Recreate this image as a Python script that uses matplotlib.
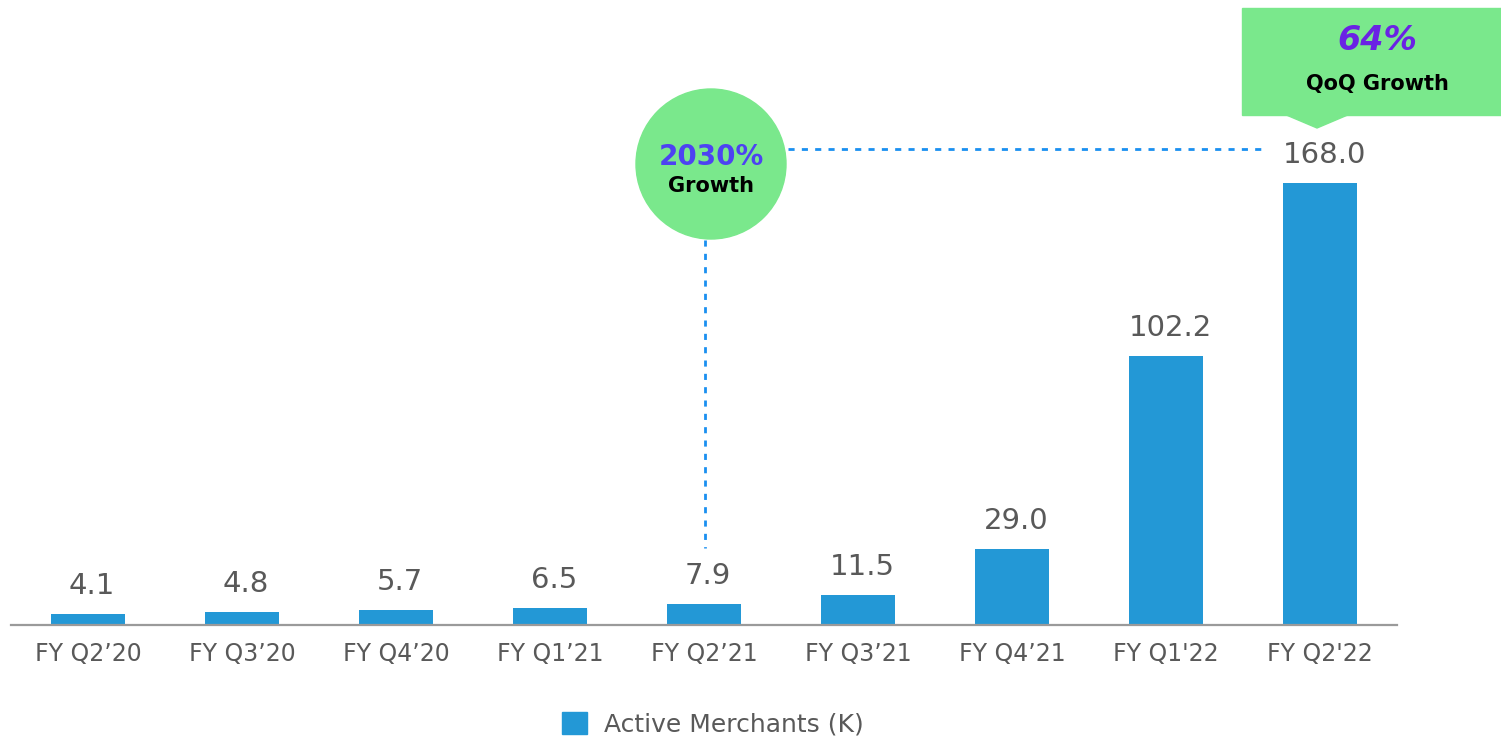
import matplotlib
matplotlib.use("Agg")
import matplotlib.pyplot as plt
from matplotlib.patches import Circle, Polygon, Rectangle, Patch

plt.rcParams["font.family"] = ["DejaVu Sans"]

# data
quarters = ["FY Q2\u201920", "FY Q3\u201920", "FY Q4\u201920", "FY Q1\u201921", "FY Q2\u201921",
            "FY Q3\u201921", "FY Q4\u201921", "FY Q1'22", "FY Q2'22"]
merchants = [4.1, 4.8, 5.7, 6.5, 7.9, 11.5, 29.0, 102.2, 168.0]
series_name = "Active Merchants (K)"
growth_total = "2030%"
growth_qoq = "64%"

BAR = "#2398d6"
GREEN = "#7ae88c"
GREY = "#595959"
DOT = "#1a8ff0"

W, H = 1501, 738
fig = plt.figure(figsize=(W / 100, H / 100), dpi=100)

ax = fig.add_axes([11 / W, 113 / H, 1386 / W, 625 / H])
x = range(len(quarters))
ax.bar(x, merchants, width=0.48, color=BAR, zorder=2)
ax.set_xlim(-0.5, len(quarters) - 0.5)
ax.set_ylim(0, 168.0 * 625 / 442)
for s in ["top", "right", "left"]:
    ax.spines[s].set_visible(False)
ax.spines["bottom"].set_color("#9a9a9a")
ax.spines["bottom"].set_linewidth(1.6)
ax.set_yticks([])
ax.set_xticks(list(x))
ax.set_xticklabels(quarters, fontsize=17, color=GREY)
ax.tick_params(axis="x", length=0, pad=12)

for xi, v in zip(x, merchants):
    ax.annotate(f"{v:.1f}", (xi, v), xytext=(3, 14.4), textcoords="offset points",
                ha="center", va="baseline", fontsize=21, color=GREY)

fig.legend([Patch(color=BAR)], [series_name], loc="center",
           bbox_to_anchor=(713 / W, 1 - 724 / H), frameon=False, fontsize=18,
           labelcolor=GREY, handlelength=1.0, handleheight=1.0, handletextpad=0.7,
           borderpad=0)

# callout overlay in pixel coordinates
ov = fig.add_axes([0, 0, 1, 1], facecolor="none")
ov.set_xlim(0, W)
ov.set_ylim(H, 0)
ov.axis("off")

ov.plot([705, 705], [240, 548], color=DOT, lw=2, linestyle=(0, (2.2, 2.6)))
ov.plot([788, 1265], [149, 149], color=DOT, lw=2, linestyle=(0, (2.2, 2.6)))

ov.add_patch(Circle((711, 164), 75, color=GREEN, zorder=3))
ov.text(711, 157, growth_total, ha="center", va="center", fontsize=20,
        fontweight="bold", color="#4d42f2", zorder=4)
ov.text(711, 186, "Growth", ha="center", va="center", fontsize=15,
        fontweight="bold", color="black", zorder=4)

ov.add_patch(Rectangle((1242, 8), W - 1242 + 5, 107, color=GREEN, zorder=3))
ov.add_patch(Polygon([(1284, 114), (1350, 114), (1317, 128)], closed=True,
                     color=GREEN, zorder=3))
ov.text(1377, 40, growth_qoq, ha="center", va="center", fontsize=24,
        fontweight="bold", fontstyle="italic", color="#6a22e4", zorder=4)
ov.text(1377, 84, "QoQ Growth", ha="center", va="center", fontsize=15,
        fontweight="bold", color="black", zorder=4)

fig.savefig("out.png", dpi=100)
